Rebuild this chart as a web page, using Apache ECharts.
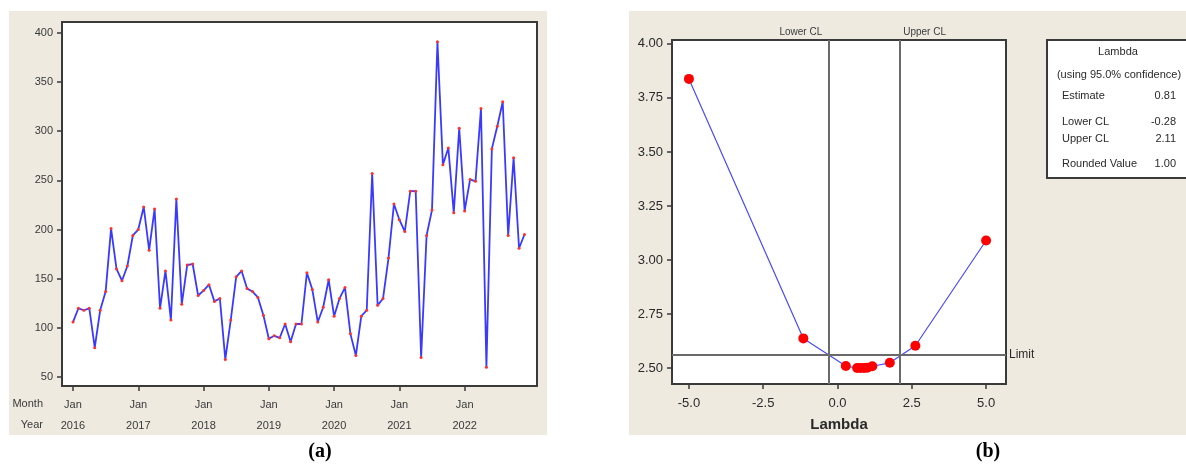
<!DOCTYPE html>
<html><head><meta charset="utf-8">
<script src="https://cdn.jsdelivr.net/npm/echarts@6/dist/echarts.min.js"></script>
<style>html,body{margin:0;padding:0;background:#fff}#c{width:1186px;height:464px}</style>
</head><body><div id="c"></div>
<script>
// ---- Panel (a): monthly series, Jan 2016 - Dec 2022 ----
const yearLabels = ['2016','2017','2018','2019','2020','2021','2022'];
const monthLabel = 'Jan';
const v2016 = [106,120,118,120,80,118,137,201,160,148,163,194];
const v2017 = [200,223,179,221,120,158,108,231,124,164,165,133];
const v2018 = [138,144,127,130,68,108,152,158,140,137,131,113];
const v2019 = [89,92,90,104,86,104,104,156,139,106,121,149];
const v2020 = [112,130,141,94,72,112,118,257,123,130,171,226];
const v2021 = [210,198,239,239,70,194,220,391,266,283,217,303];
const v2022 = [219,251,249,323,60,282,305,330,194,273,181,195];
const yTicksA = [50,100,150,200,250,300,350,400];

// ---- Panel (b): Box-Cox plot ----
const lambdaVals = [-5.0,-1.15,0.28,0.66,0.77,0.89,1.0,1.17,1.76,2.62,5.0];
const stdevVals  = [3.838,2.637,2.509,2.500,2.500,2.500,2.501,2.508,2.524,2.603,3.090];
const lowerCL = -0.28, upperCL = 2.11, limitVal = 2.56;
const xTicksB = [-5,-2.5,0,2.5,5];
const yTicksB = [2.5,2.75,3.0,3.25,3.5,3.75,4.0];
const boxRows = [['Estimate','0.81',96],['Lower CL','-0.28',122],['Upper CL','2.11',139],['Rounded Value','1.00',164]];

const monthly = [].concat(v2016,v2017,v2018,v2019,v2020,v2021,v2022);
const dataA = monthly.map((v,i)=>[i,v]);
const dataB = lambdaVals.map((l,i)=>[l,stdevVals[i]]);
const yearTickPos = yearLabels.map((y,i)=>i*12);

const FONT = 'Liberation Sans';
const frame = '#3a3a3a';
const chart = echarts.init(document.getElementById('c'), null, {renderer:'canvas'});

chart.setOption({
  animation:false,
  backgroundColor:'#ffffff',
  textStyle:{fontFamily:FONT},
  grid:[
    {left:62, top:22, width:475, height:364, show:true, backgroundColor:'#fff', borderColor:frame, borderWidth:2, outerBoundsMode:'none', containLabel:false},
    {left:672, top:40, width:334, height:344, show:true, backgroundColor:'#fff', borderColor:frame, borderWidth:2, outerBoundsMode:'none', containLabel:false}
  ],
  xAxis:[
    {type:'value', gridIndex:0, min:-2.02, max:85.3, splitLine:{show:false},
     axisLine:{show:true, onZero:false, lineStyle:{color:frame,width:2}},
     axisTick:{show:true, length:5, customValues:yearTickPos, lineStyle:{color:frame,width:1.5}},
     axisLabel:{customValues:yearTickPos, margin:8, color:'#3a3a3a', fontSize:11, lineHeight:21, fontFamily:FONT,
       formatter:v=>monthLabel+'\n'+yearLabels[Math.round(v/12)]}},
    {type:'value', gridIndex:1, min:-5.57, max:5.67, splitLine:{show:false},
     axisLine:{show:true, onZero:false, lineStyle:{color:frame,width:2}},
     axisTick:{show:true, length:5, customValues:xTicksB, lineStyle:{color:frame,width:1.5}},
     axisLabel:{customValues:xTicksB, margin:13, color:'#2a2a2a', fontSize:13, fontFamily:FONT,
       formatter:v=>v.toFixed(1)},
     name:'Lambda', nameLocation:'middle', nameGap:33,
     nameTextStyle:{fontSize:15, fontWeight:'bold', color:'#2a2a2a', fontFamily:FONT}}
  ],
  yAxis:[
    {type:'value', gridIndex:0, min:41, max:411, splitLine:{show:false},
     axisLine:{show:true, onZero:false, lineStyle:{color:frame,width:2}},
     axisTick:{show:true, length:5, customValues:yTicksA, lineStyle:{color:frame,width:1.5}},
     axisLabel:{customValues:yTicksA, margin:9, color:'#3a3a3a', fontSize:11, fontFamily:FONT}},
    {type:'value', gridIndex:1, min:2.426, max:4.018, splitLine:{show:false},
     axisLine:{show:true, onZero:false, lineStyle:{color:frame,width:2}},
     axisTick:{show:true, length:5, customValues:yTicksB, lineStyle:{color:frame,width:1.5}},
     axisLabel:{customValues:yTicksB, margin:9, color:'#2a2a2a', fontSize:13, fontFamily:FONT,
       formatter:v=>v.toFixed(2)}}
  ],
  series:[
    {type:'line', xAxisIndex:0, yAxisIndex:0, data:dataA, symbol:'circle', symbolSize:3,
     itemStyle:{color:'#ff3030', borderWidth:0}, lineStyle:{color:'#3a3aff', width:1.8}},
    {type:'line', xAxisIndex:1, yAxisIndex:1, data:dataB, symbol:'circle', symbolSize:10,
     itemStyle:{color:'#ff0000', borderWidth:0}, lineStyle:{color:'#4a4aff', width:1.2}, z:3,
     markLine:{silent:true, symbol:['none','none'], animation:false,
       data:[
         {xAxis:lowerCL, lineStyle:{color:'#6a6a6a', width:2, type:'solid'}, label:{show:false}},
         {xAxis:upperCL, lineStyle:{color:'#6a6a6a', width:2, type:'solid'}, label:{show:false}},
         {yAxis:limitVal, lineStyle:{color:'#6a6a6a', width:2, type:'solid'},
          label:{show:true, position:'end', formatter:'Limit', color:'#2a2a2a', fontSize:12, distance:3, fontFamily:FONT}}
       ]}}
  ]
});

// Background panels, CL labels, info box and captions
const pLow = chart.convertToPixel({gridIndex:1}, [lowerCL, 4.018]);
const pUp = chart.convertToPixel({gridIndex:1}, [upperCL, 4.018]);
const g = [
  {type:'rect', z:-100, shape:{x:9,y:11,width:538,height:424}, style:{fill:'#eeeae0'}},
  {type:'rect', z:-100, shape:{x:629,y:11,width:557,height:424}, style:{fill:'#eeeae0'}},
  {type:'text', x:43, y:404, style:{text:'Month', align:'right', verticalAlign:'middle', fontSize:11, fontFamily:FONT, fill:'#3a3a3a'}},
  {type:'text', x:43, y:425, style:{text:'Year', align:'right', verticalAlign:'middle', fontSize:11, fontFamily:FONT, fill:'#3a3a3a'}},
  {type:'text', x:pLow[0]-7, y:pLow[1]-8, style:{text:'Lower CL', align:'right', verticalAlign:'middle', fontSize:10, fontFamily:FONT, fill:'#3a3a3a'}},
  {type:'text', x:pUp[0]+3, y:pUp[1]-8, style:{text:'Upper CL', align:'left', verticalAlign:'middle', fontSize:10, fontFamily:FONT, fill:'#3a3a3a'}},
  {type:'rect', z:5, shape:{x:1047,y:40,width:150,height:138}, style:{fill:'#fff', stroke:frame, lineWidth:2}},
  {type:'text', z:6, x:1118, y:52, style:{text:'Lambda', align:'center', verticalAlign:'middle', fontSize:11, fontFamily:FONT, fill:'#2a2a2a'}},
  {type:'text', z:6, x:1119, y:75, style:{text:'(using 95.0% confidence)', align:'center', verticalAlign:'middle', fontSize:11, fontFamily:FONT, fill:'#2a2a2a'}},
  {type:'text', x:320, y:452, style:{text:'(a)', align:'center', verticalAlign:'middle', fontSize:20, fontWeight:'bold', fontFamily:'Liberation Serif', fill:'#000'}},
  {type:'text', x:988, y:452, style:{text:'(b)', align:'center', verticalAlign:'middle', fontSize:20, fontWeight:'bold', fontFamily:'Liberation Serif', fill:'#000'}}
];
boxRows.forEach(r=>{
  g.push({type:'text', z:6, x:1062, y:r[2], style:{text:r[0], align:'left', verticalAlign:'middle', fontSize:11, fontFamily:FONT, fill:'#2a2a2a'}});
  g.push({type:'text', z:6, x:1176, y:r[2], style:{text:r[1], align:'right', verticalAlign:'middle', fontSize:11, fontFamily:FONT, fill:'#2a2a2a'}});
});
chart.setOption({graphic:g});
</script></body></html>
